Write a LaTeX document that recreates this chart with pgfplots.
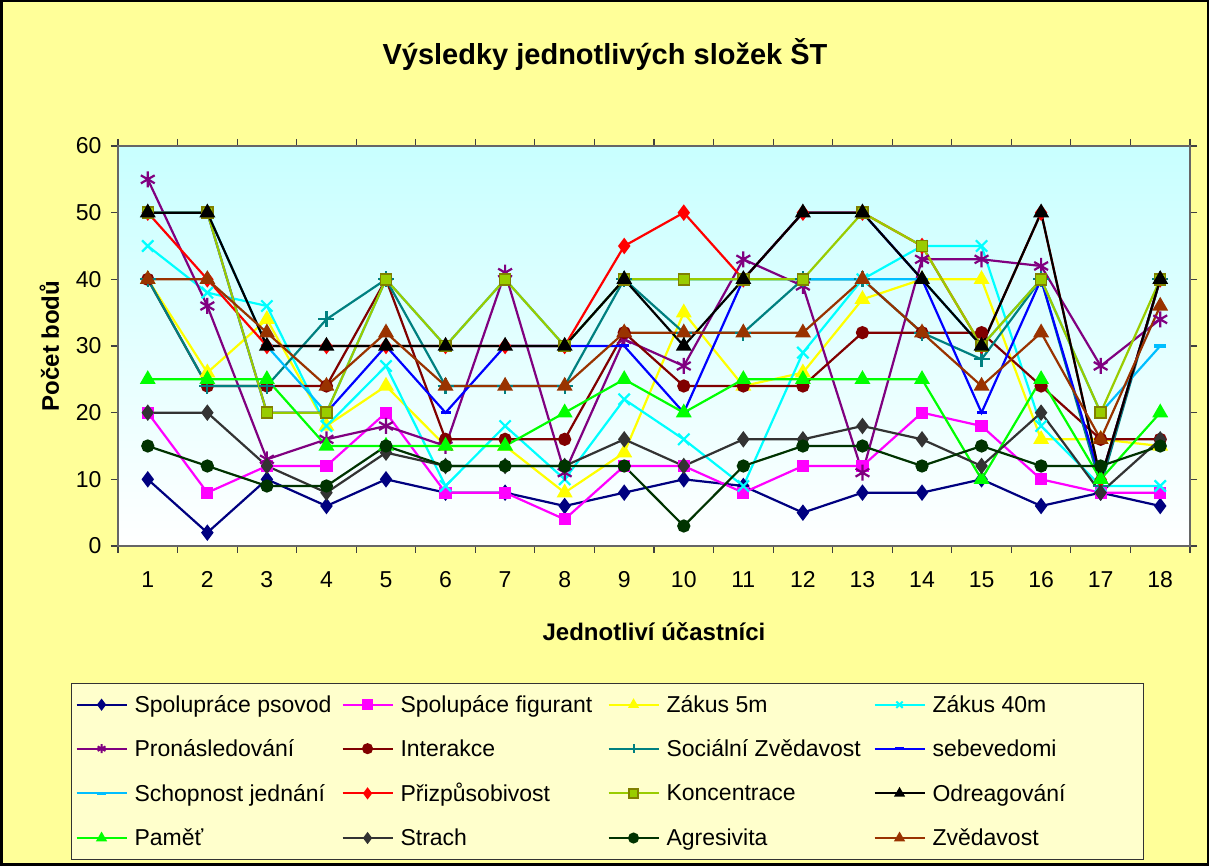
\documentclass[border=0pt]{standalone}
\usepackage{fontspec}
\setmainfont{Liberation Sans}
\usepackage{pgfplots}
\pgfplotsset{compat=1.18}
\definecolor{bgyellow}{RGB}{255,255,153}
\definecolor{legfill}{RGB}{255,255,204}
\definecolor{plottop}{RGB}{200,255,255}
\definecolor{cNavy}{RGB}{0,0,128}
\definecolor{cMag}{RGB}{255,0,255}
\definecolor{cYel}{RGB}{255,255,0}
\definecolor{cCyan}{RGB}{0,255,255}
\definecolor{cPurp}{RGB}{128,0,128}
\definecolor{cDRed}{RGB}{128,0,0}
\definecolor{cTeal}{RGB}{0,128,128}
\definecolor{cBlue}{RGB}{0,0,255}
\definecolor{cSky}{RGB}{0,190,255}
\definecolor{cRed}{RGB}{255,0,0}
\definecolor{cOlive}{RGB}{153,204,0}
\definecolor{cOliveD}{RGB}{128,128,0}
\definecolor{cGreen}{RGB}{0,255,0}
\definecolor{cGray}{RGB}{51,51,51}
\definecolor{cDGreen}{RGB}{0,51,0}
\definecolor{cBrown}{RGB}{153,51,0}
\newcommand{\legtxt}[1]{\makebox[210pt][l]{\hspace{5pt}#1}}
\begin{document}
\begin{tikzpicture}[x=1pt,y=1pt]
\fill[bgyellow] (0,0) rectangle (1209,866);
\draw[black, line width=2.5pt] (1.25,1.25) rectangle (1207.75,864.75);
\path[use as bounding box] (0,0) rectangle (1209,866);
\node[font=\bfseries\fontsize{29}{34}\selectfont] at (605,811) {Výsledky jednotlivých složek ŠT};
\begin{axis}[
  at={(118pt,320pt)}, anchor=south west,
  scale only axis, width=1072pt, height=400pt,
  xmin=0.5, xmax=18.5, ymin=0, ymax=60,
  xtick={0.5,1.5,...,18.5},
  x tick label as interval,
  xticklabels={1,2,3,4,5,6,7,8,9,10,11,12,13,14,15,16,17,18},
  ytick={0,10,...,60},
  tick align=outside, major tick length=7pt,
  every tick/.style={black!75, line width=1.2pt},
  axis line style={black!60, line width=1.2pt},
  axis background/.style={top color=plottop, bottom color=white},
  ticklabel style={font=\fontsize{23}{27}\selectfont},
  xticklabel style={yshift=-15pt},
  yticklabel style={xshift=-6pt},
  /pgf/number format/assume math mode=true,
  xlabel={Jednotliví účastníci},
  ylabel={Počet bodů},
  every axis x label/.style={at={(axis description cs:0.5,-0.215)}, anchor=center, font=\bfseries\fontsize{24}{28}\selectfont},
  every axis y label/.style={at={(axis description cs:-0.064,0.5)}, anchor=center, rotate=90, font=\bfseries\fontsize{24}{28}\selectfont},
  legend columns=4,
  legend style={at={(-0.0438,-0.3425)}, anchor=north west, fill=legfill, draw=black!80, line width=1pt,
    font=\fontsize{23}{27}\selectfont, row sep=21.5pt, column sep=0pt, inner xsep=4pt, inner ysep=10pt},
  legend cell align=left,
  legend image code/.code={\draw[mark repeat=2,mark phase=2,#1] plot coordinates {(0pt,0pt) (25pt,0pt) (50pt,0pt)};},
  legend image post style={line width=2pt, mark size=4.5pt},
  every axis plot/.append style={line width=2.2pt},
]
\addplot[cNavy, mark=diamond*, mark size=6.5pt] coordinates {(1,10)(2,2)(3,10)(4,6)(5,10)(6,8)(7,8)(8,6)(9,8)(10,10)(11,9)(12,5)(13,8)(14,8)(15,10)(16,6)(17,8)(18,6)};
\addlegendentry{\legtxt{Spolupráce psovod}}
\addplot[cMag, mark=square*, mark size=5pt] coordinates {(1,20)(2,8)(3,12)(4,12)(5,20)(6,8)(7,8)(8,4)(9,12)(10,12)(11,8)(12,12)(13,12)(14,20)(15,18)(16,10)(17,8)(18,8)};
\addlegendentry{\legtxt{Spolupáce figurant}}
\addplot[cYel, mark=triangle*, mark size=7pt] coordinates {(1,40)(2,26)(3,34)(4,18)(5,24)(6,15)(7,15)(8,8)(9,14)(10,35)(11,24)(12,26)(13,37)(14,40)(15,40)(16,16)(17,16)(18,15)};
\addlegendentry{\legtxt{Zákus 5m}}
\addplot[cCyan, mark=x, mark size=8pt] coordinates {(1,45)(2,38)(3,36)(4,18)(5,27)(6,9)(7,18)(8,10)(9,22)(10,16)(11,9)(12,29)(13,40)(14,45)(15,45)(16,18)(17,9)(18,9)};
\addlegendentry{\legtxt{Zákus 40m}}
\addplot[cPurp, mark=asterisk, mark size=8pt] coordinates {(1,55)(2,36)(3,13)(4,16)(5,18)(6,15)(7,41)(8,11)(9,31)(10,27)(11,43)(12,39)(13,11)(14,43)(15,43)(16,42)(17,27)(18,34)};
\addlegendentry{\legtxt{Pronásledování}}
\addplot[cDRed, mark=*, mark size=5.5pt] coordinates {(1,40)(2,24)(3,24)(4,24)(5,40)(6,16)(7,16)(8,16)(9,32)(10,24)(11,24)(12,24)(13,32)(14,32)(15,32)(16,24)(17,16)(18,16)};
\addlegendentry{\legtxt{Interakce}}
\addplot[cTeal, mark=+, mark size=8pt] coordinates {(1,40)(2,24)(3,24)(4,34)(5,40)(6,24)(7,24)(8,24)(9,40)(10,32)(11,32)(12,40)(13,40)(14,32)(15,28)(16,40)(17,9)(18,40)};
\addlegendentry{\legtxt{Sociální Zvědavost}}
\addplot[cBlue, mark=-, mark size=5pt, mark options={line width=3pt}] coordinates {(1,50)(2,50)(3,20)(4,20)(5,30)(6,20)(7,30)(8,30)(9,30)(10,20)(11,40)(12,50)(13,50)(14,40)(15,20)(16,40)(17,10)(18,40)};
\addlegendentry{\legtxt{sebevedomi}}
\addplot[cSky, mark=-, mark size=6pt, mark options={line width=3.5pt}] coordinates {(1,50)(2,50)(3,30)(4,20)(5,40)(6,30)(7,40)(8,30)(9,40)(10,40)(11,40)(12,40)(13,40)(14,40)(15,30)(16,40)(17,20)(18,30)};
\addlegendentry{\legtxt{Schopnost jednání}}
\addplot[cRed, mark=diamond*, mark size=6.5pt] coordinates {(1,50)(2,40)(3,30)(4,30)(5,30)(6,30)(7,30)(8,30)(9,45)(10,50)(11,40)(12,50)(13,50)(14,45)(15,30)(16,50)(17,10)(18,40)};
\addlegendentry{\legtxt{Přizpůsobivost}}
\addplot[cOlive, mark=square*, mark size=5.5pt, mark options={fill=cOlive, draw=cOliveD, line width=1.5pt}] coordinates {(1,50)(2,50)(3,20)(4,20)(5,40)(6,30)(7,40)(8,30)(9,40)(10,40)(11,40)(12,40)(13,50)(14,45)(15,30)(16,40)(17,20)(18,40)};
\addlegendentry{\legtxt{Koncentrace}}
\addplot[black, mark=triangle*, mark size=7pt] coordinates {(1,50)(2,50)(3,30)(4,30)(5,30)(6,30)(7,30)(8,30)(9,40)(10,30)(11,40)(12,50)(13,50)(14,40)(15,30)(16,50)(17,10)(18,40)};
\addlegendentry{\legtxt{Odreagování}}
\addplot[cGreen, mark=triangle*, mark size=7pt] coordinates {(1,25)(2,25)(3,25)(4,15)(5,15)(6,15)(7,15)(8,20)(9,25)(10,20)(11,25)(12,25)(13,25)(14,25)(15,10)(16,25)(17,10)(18,20)};
\addlegendentry{\legtxt{Paměť}}
\addplot[cGray, mark=diamond*, mark size=6.5pt] coordinates {(1,20)(2,20)(3,12)(4,8)(5,14)(6,12)(7,12)(8,12)(9,16)(10,12)(11,16)(12,16)(13,18)(14,16)(15,12)(16,20)(17,8)(18,16)};
\addlegendentry{\legtxt{Strach}}
\addplot[cDGreen, mark=*, mark size=5.5pt] coordinates {(1,15)(2,12)(3,9)(4,9)(5,15)(6,12)(7,12)(8,12)(9,12)(10,3)(11,12)(12,15)(13,15)(14,12)(15,15)(16,12)(17,12)(18,15)};
\addlegendentry{\legtxt{Agresivita}}
\addplot[cBrown, mark=triangle*, mark size=7pt] coordinates {(1,40)(2,40)(3,32)(4,24)(5,32)(6,24)(7,24)(8,24)(9,32)(10,32)(11,32)(12,32)(13,40)(14,32)(15,24)(16,32)(17,16)(18,36)};
\addlegendentry{\legtxt{Zvědavost}}
\end{axis}
\end{tikzpicture}
\end{document}
